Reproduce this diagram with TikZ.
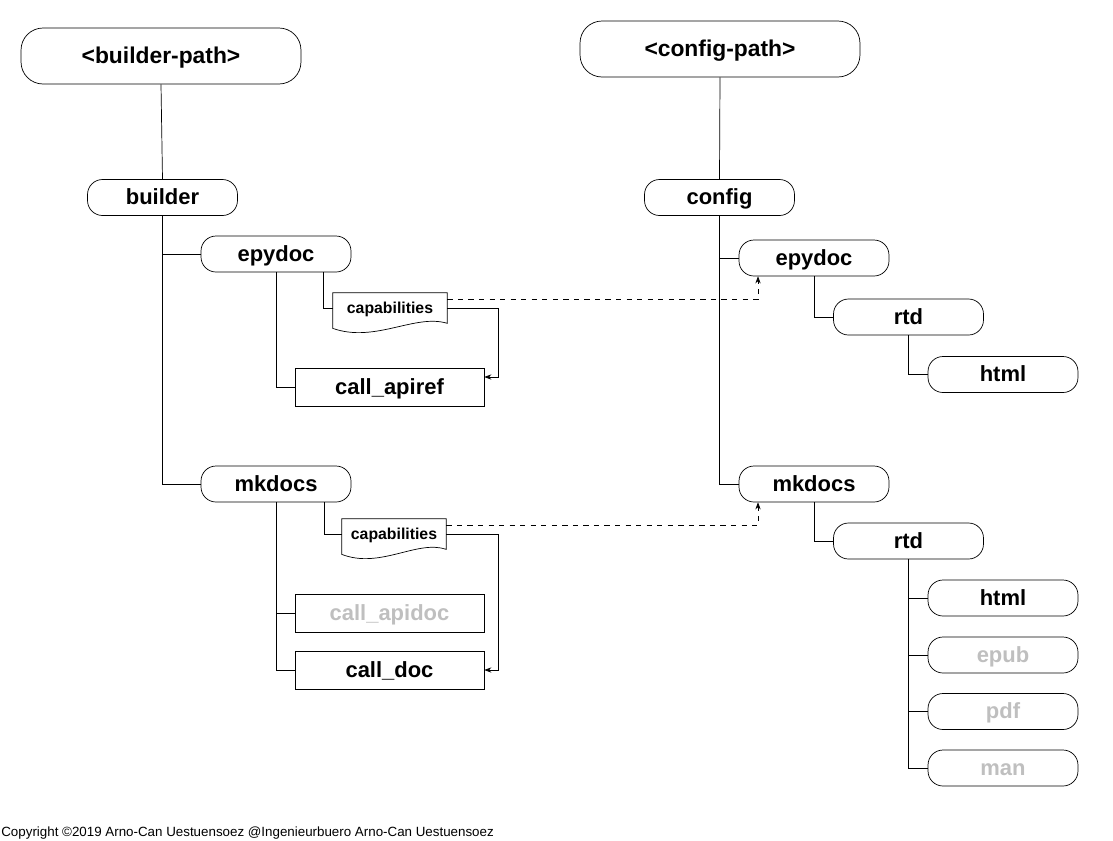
\documentclass[tikz,border=0pt]{standalone}
\usepackage{fontspec}
\setmainfont{Liberation Sans}
\usetikzlibrary{arrows.meta,calc}
\tikzset{
  rootnode/.style={draw,rounded corners=0.44cm,minimum width=5.6cm,minimum height=1.12cm,inner sep=0pt,text height=9.4pt,text depth=0.5pt,font=\bfseries\fontsize{13}{15}\selectfont},
  dirnode/.style={draw,rounded corners=0.3cm,minimum width=3cm,minimum height=0.72cm,inner sep=0pt,text height=9pt,text depth=0.5pt,font=\bfseries\fontsize{12.5}{14}\selectfont},
  callbox/.style={draw,minimum width=3.78cm,minimum height=0.76cm,inner sep=0pt,text height=9pt,text depth=0.5pt,font=\bfseries\fontsize{12.5}{14}\selectfont},
  capnode/.style={inner sep=0pt,minimum height=0.6cm,text height=6.5pt,text depth=0.3pt,font=\bfseries\fontsize{9}{10}\selectfont},
  inactive/.style={text=black!25},
  link/.style={-{Stealth[length=4pt,width=3pt]}}
}
% wavy document outline round a capabilities node
\newcommand{\capdoc}[1]{%
  \draw (#1.north west) -- (#1.north east) -- (#1.south east)
    .. controls ($(#1.south east)!0.28!(#1.south west)+(0,-10)$)
    and ($(#1.south east)!0.63!(#1.south west)+(0,20)$)
    .. ($(#1.south west)+(0,5)$) -- cycle;}

\begin{document}
\begin{tikzpicture}[x=0.02cm,y=-0.02cm]
  \useasboundingbox (0,0) rectangle (1113,840);

  % -- builder side --
  \node[rootnode] (bpath) at (161,56) {<builder-path>};
  \node[dirnode] (builder) at (162.5,197.5) {builder};
  \node[dirnode] (lepy) at (276,254) {epydoc};
  \node[capnode,minimum width=2.28cm] (lcap) at (390,308) {capabilities};
  \node[callbox] (apiref) at (389.5,387) {call\_apiref};
  \node[dirnode] (lmk) at (276,484) {mkdocs};
  \node[capnode,minimum width=2.08cm] (lcapb) at (394,534) {capabilities};
  \node[callbox,inactive] (apidoc) at (389.5,613.5) {call\_apidoc};
  \node[callbox] (calldoc) at (389.5,670) {call\_doc};

  % -- config side --
  \node[rootnode] (cpath) at (720,49) {<config-path>};
  \node[dirnode] (config) at (719.5,197.5) {config};
  \node[dirnode] (repy) at (814,258) {epydoc};
  \node[dirnode] (rrtd) at (908.5,317) {rtd};
  \node[dirnode] (rhtml) at (1003,374.5) {html};
  \node[dirnode] (rmk) at (814,484) {mkdocs};
  \node[dirnode] (rrtdb) at (908.5,541) {rtd};
  \node[dirnode] (rhtmlb) at (1003,598) {html};
  \node[dirnode,inactive] (repub) at (1003,655) {epub};
  \node[dirnode,inactive] (rpdf) at (1003,711.5) {pdf};
  \node[dirnode,inactive] (rman) at (1003,768) {man};

  \capdoc{lcap}
  \capdoc{lcapb}

  % -- tree lines --
  \draw (bpath.south) -- (builder.north);
  \draw (builder.south) |- (lepy.west);
  \draw (builder.south) |- (lmk.west);
  \draw (lepy.south) |- (apiref.west);
  \draw ([xshift=0.94cm]lepy.south) |- (lcap.west);
  \draw (lmk.south) |- (apidoc.west);
  \draw (lmk.south) |- (calldoc.west);
  \draw ([xshift=0.96cm]lmk.south) |- (lcapb.west);

  \draw (cpath.south) -- (config.north);
  \draw (config.south) |- (repy.west);
  \draw (config.south) |- (rmk.west);
  \draw (repy.south) |- (rrtd.west);
  \draw (rrtd.south) |- (rhtml.west);
  \draw (rmk.south) |- (rrtdb.west);
  \foreach \n in {rhtmlb,repub,rpdf,rman}
    \draw (rrtdb.south) |- (\n.west);

  % -- capabilities links --
  \draw[link] (lcap.east) -- ++(51,0) |- ([yshift=0.2cm]apiref.east);
  \draw[link] (lcapb.east) -- ++(52,0) |- (calldoc.east);
  \draw[link,dashed] ([yshift=-0.14cm]lcap.north east) -| ([xshift=-1.12cm]repy.south);
  \draw[link,dashed] ([yshift=-0.14cm]lcapb.north east) -| ([xshift=-1.12cm]rmk.south);

  \node[anchor=base west,inner sep=0pt,font=\fontsize{7.6}{9}\selectfont] (copy) at (1,836)
    {Copyright ©2019 Arno-Can Uestuensoez @Ingenieurbuero Arno-Can Uestuensoez};
\end{tikzpicture}
\end{document}
